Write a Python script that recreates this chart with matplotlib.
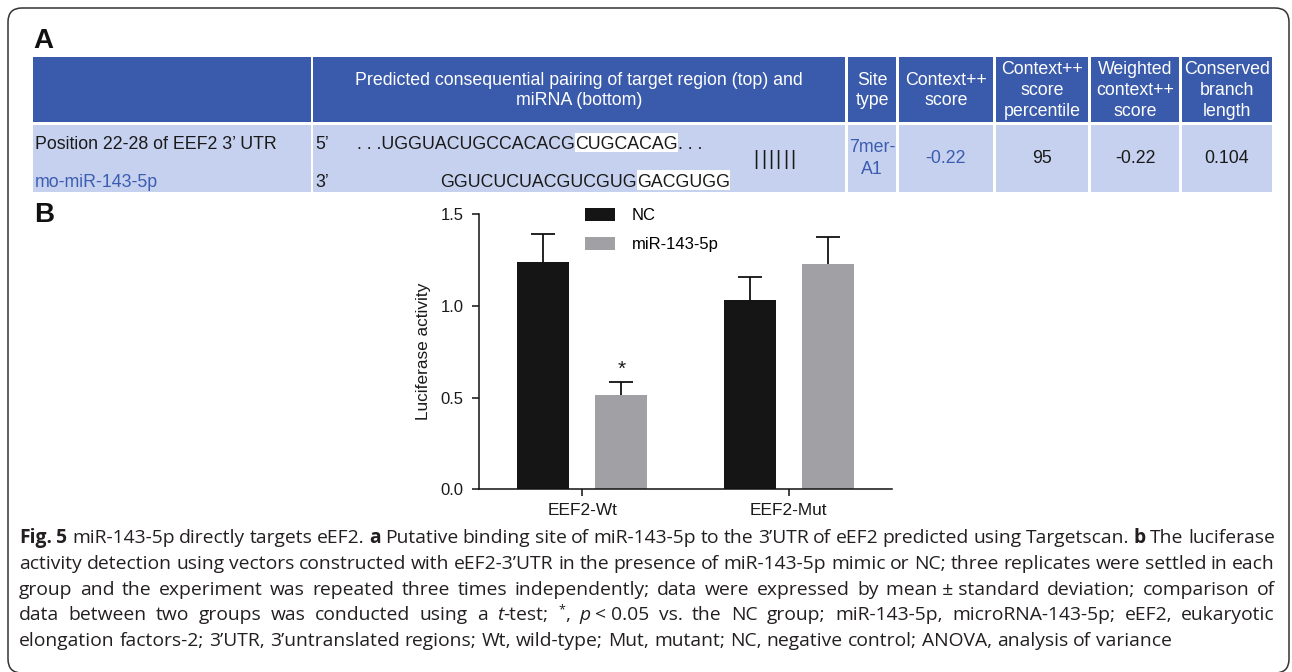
import re
import numpy as np
import matplotlib
matplotlib.use("Agg")
import matplotlib.pyplot as plt
import matplotlib.transforms as mtransforms
from matplotlib.patches import Rectangle, FancyBboxPatch
from matplotlib.font_manager import FontProperties

# ---------------- data ----------------
groups = ["EEF2-Wt", "EEF2-Mut"]
series_names = ["NC", "miR-143-5p"]
nc_mean = [1.24, 1.03]
nc_sd = [0.15, 0.13]
mir_mean = [0.515, 1.23]
mir_sd = [0.073, 0.146]
mir_sig = ["*", ""]
yticks = [0.0, 0.5, 1.0, 1.5]
ylabel = "Luciferase activity"

table_header = ["",
                "Predicted consequential pairing of target region (top) and\nmiRNA (bottom)",
                "Site\ntype", "Context++\nscore", "Context++\nscore\npercentile",
                "Weighted\ncontext++\nscore", "Conserved\nbranch\nlength"]
row_name = "Position 22-28 of EEF2 3\u2019 UTR"
mirna_name = "mo-miR-143-5p"
utr_parts = [". . .UGGUACUGCCACACG", "CUGCACAG", ". . ."]
mirna_parts = ["GGUCUCUACGUCGUG", "GACGUGG"]
n_pairs = 6
row_values = ["7mer-\nA1", "-0.22", "95", "-0.22", "0.104"]
row_value_blue = [True, True, False, False, False]

caption_lines = [
    "**Fig. 5** miR-143-5p directly targets eEF2. **a** Putative binding site of miR-143-5p to the 3\u2019UTR of eEF2 predicted using Targetscan. **b** The luciferase",
    "activity detection using vectors constructed with eEF2-3\u2019UTR in the presence of miR-143-5p mimic or NC; three replicates were settled in each",
    "group and the experiment was repeated three times independently; data were expressed by mean\u00a0\u00b1\u00a0standard deviation; comparison of",
    "data between two groups was conducted using a _t_-test; ^*^, _p_\u00a0<\u00a00.05 vs. the NC group; miR-143-5p, microRNA-143-5p; eEF2, eukaryotic",
    "elongation factors-2; 3\u2019UTR, 3\u2019untranslated regions; Wt, wild-type; Mut, mutant; NC, negative control; ANOVA, analysis of variance",
]

# ---------------- style ----------------
SANS = ["Liberation Sans", "DejaVu Sans"]
CAP_FONT = ["Open Sans", "DejaVu Sans"]
plt.rcParams["font.family"] = SANS
HEAD_BG = "#3a5bab"
ROW_BG = "#c6d1ef"
BLUE = "#3b5cb0"
INK = "#1a1a1a"
NC_C = "#151515"
MIR_C = "#a0a0a5"
TFS = 12.8

W, H = 1292, 672
fig = plt.figure(figsize=(W / 100, H / 100), dpi=100)
pix = mtransforms.Affine2D().scale(1 / W, -1 / H).translate(0, 1) + fig.transFigure
renderer = fig.canvas.get_renderer()


def text_w(s, fp):
    w, h, d = renderer.get_text_width_height_descent(s, fp, ismath=False)
    return w


# outer frame
fig.add_artist(FancyBboxPatch((8, 8), 1281, 665, boxstyle="round,pad=0,rounding_size=14",
                              transform=pix, fill=False, ec="#333333", lw=1.1))

# panel labels
PANEL_FONT = ["Liberation Sans Narrow", "Liberation Sans", "DejaVu Sans"]
fig.text(33, 28, "A", transform=pix, ha="left", va="top", fontsize=20, fontweight="bold",
         family=PANEL_FONT, color="#111111")
fig.text(34, 202, "B", transform=pix, ha="left", va="top", fontsize=20, fontweight="bold",
         family=PANEL_FONT, color="#111111")

# ---------------- table (panel A) ----------------
col_x = [(33, 311), (313, 845), (848, 896), (899, 993), (996, 1088), (1091, 1179), (1182, 1272)]
head_y = (57, 122)
row_y = (125, 192)
for (x0, x1), label in zip(col_x, table_header):
    fig.add_artist(Rectangle((x0, head_y[0]), x1 - x0, head_y[1] - head_y[0],
                             transform=pix, color=HEAD_BG, lw=0))
    fig.add_artist(Rectangle((x0, row_y[0]), x1 - x0, row_y[1] - row_y[0],
                             transform=pix, color=ROW_BG, lw=0))
    if label:
        fig.text((x0 + x1) / 2, sum(head_y) / 2 + 1, label, transform=pix, ha="center",
                 va="center", multialignment="center", color="white", fontsize=TFS,
                 linespacing=1.3)

fig.text(35, 149, row_name, transform=pix, ha="left", va="baseline", fontsize=TFS, color=INK)
fig.text(35, 187, mirna_name, transform=pix, ha="left", va="baseline", fontsize=TFS, color=BLUE)

for (x0, x1), val, blue in zip(col_x[2:], row_values, row_value_blue):
    fig.text((x0 + x1) / 2, sum(row_y) / 2, val, transform=pix, ha="center", va="center",
             multialignment="center", fontsize=TFS, color=BLUE if blue else INK, linespacing=1.4)

# pairing text
fp = FontProperties(family=SANS, size=TFS)
fig.text(315, 149, "5\u2019", transform=pix, va="baseline", fontsize=TFS, color=INK)
fig.text(315, 187, "3\u2019", transform=pix, va="baseline", fontsize=TFS, color=INK)
x = 357
for i, part in enumerate(utr_parts):
    w = text_w(part, fp)
    if i == 1:
        fig.add_artist(Rectangle((x, 133), w, 19, transform=pix, color="white", lw=0))
    fig.text(x, 149, part, transform=pix, va="baseline", fontsize=TFS, color=INK)
    x += w
x = 637 - text_w(mirna_parts[0], fp)
for i, part in enumerate(mirna_parts):
    w = text_w(part, fp)
    if i == 1:
        fig.add_artist(Rectangle((x, 170), w, 20, transform=pix, color="white", lw=0))
    fig.text(x, 187, part, transform=pix, va="baseline", fontsize=TFS, color=INK)
    x += w
for i in range(n_pairs):
    fig.text(756 + i * 7.4, 165, "|", transform=pix, ha="center", va="baseline",
             fontsize=TFS + 1.5, color=INK)

# ---------------- bar chart (panel B) ----------------
ax = fig.add_axes([479 / W, 1 - 489.3 / H, 413 / W, 275 / H])
xpos = np.arange(len(groups))
off, bw = 0.189, 0.252
b1 = ax.bar(xpos - off, nc_mean, bw, color=NC_C, zorder=2)
b2 = ax.bar(xpos + off, mir_mean, bw, color=MIR_C, zorder=2)
for xs, m, s in [(xpos - off, nc_mean, nc_sd), (xpos + off, mir_mean, mir_sd)]:
    _, caps, _ = ax.errorbar(xs, m, yerr=[np.zeros(len(m)), s], fmt="none", ecolor="#111111",
                             elinewidth=1.3, capsize=8.6, capthick=1.3, zorder=3)
    # keep only the upper caps (Prism style, bars hide the lower half)
    for cl in caps:
        if np.allclose(cl.get_ydata(), m):
            cl.set_visible(False)
for xi, m, s, mark in zip(xpos + off, mir_mean, mir_sd, mir_sig):
    if mark:
        ax.annotate(mark, (xi, m + s), xytext=(0, 5), textcoords="offset points",
                    ha="center", va="baseline", fontsize=15, color=INK)

ax.set_xlim(-0.5, 1.5)
ax.set_ylim(0, 1.5)
ax.set_yticks(yticks)
ax.set_yticklabels([f"{v:.1f}" for v in yticks])
ax.set_xticks(xpos)
ax.set_xticklabels(groups)
for side in ["top", "right"]:
    ax.spines[side].set_visible(False)
for side in ["left", "bottom"]:
    ax.spines[side].set_linewidth(1.1)
    ax.spines[side].set_color("#111111")
ax.tick_params(axis="both", length=5, width=1.1, color="#111111", labelcolor=INK)
ax.tick_params(axis="y", pad=6, labelsize=12)
ax.tick_params(axis="x", pad=5, labelsize=12.4)
ax.set_ylabel(ylabel, fontsize=12.4, color=INK)
ax.yaxis.set_label_coords(-0.116, 0.5)
ax.patch.set_alpha(0)

ax.legend([b1, b2], series_names, loc="upper left", bbox_to_anchor=(585 / W, 1 - 208 / H),
          bbox_transform=fig.transFigure, frameon=False, borderpad=0, borderaxespad=0,
          handlelength=1.8, handleheight=0.78, handletextpad=1.0, labelspacing=0.85,
          fontsize=12)

# ---------------- caption ----------------
CAP_L, CAP_R = 19, 1275
CAP_COLOR = "#231f20"


def parse(line):
    segs = []
    pos = 0
    for m in re.finditer(r"\*\*(.+?)\*\*|_(.+?)_|\^(.+?)\^", line):
        if m.start() > pos:
            segs.append((line[pos:m.start()], "n"))
        if m.group(1):
            segs.append((m.group(1), "b"))
        elif m.group(2):
            segs.append((m.group(2), "i"))
        else:
            segs.append((m.group(3), "s"))
        pos = m.end()
    if pos < len(line):
        segs.append((line[pos:], "n"))
    words = [[]]
    for text, style in segs:
        for k, p in enumerate(text.split(" ")):
            if k > 0:
                words.append([])
            if p:
                words[-1].append((p, style))
    return [w for w in words if w]


def seg_fp(style, fs):
    return FontProperties(family=CAP_FONT, size=fs * (0.65 if style == "s" else 1),
                          weight="bold" if style == "b" else "normal",
                          style="italic" if style == "i" else "normal")


def word_w(word, fs):
    return sum(text_w(t, seg_fp(st, fs)) for t, st in word)


# fit caption size so that the last (unjustified) line ends where it does in print
fs0 = 12.0
last = parse(caption_lines[-1])
sp0 = text_w("a a", seg_fp("n", fs0)) - text_w("aa", seg_fp("n", fs0))
nat = sum(word_w(w, fs0) for w in last) + sp0 * (len(last) - 1)
cap_fs = fs0 * (1165 - CAP_L) / nat
space_w = text_w("a a", seg_fp("n", cap_fs)) - text_w("aa", seg_fp("n", cap_fs))

baselines = [543, 569, 595, 620, 646]
for li, (line, yb) in enumerate(zip(caption_lines, baselines)):
    words = parse(line)
    widths = [word_w(w, cap_fs) for w in words]
    if li < len(caption_lines) - 1:
        gap = (CAP_R - CAP_L - sum(widths)) / (len(words) - 1)
    else:
        gap = space_w
    x = CAP_L
    for word, ww in zip(words, widths):
        for t, st in word:
            fpx = seg_fp(st, cap_fs)
            fig.text(x, yb - (7 if st == "s" else 0), t, transform=pix, ha="left",
                     va="baseline", fontproperties=fpx, color=CAP_COLOR)
            x += text_w(t, fpx)
        x += gap

fig.savefig("out.png", dpi=100)
